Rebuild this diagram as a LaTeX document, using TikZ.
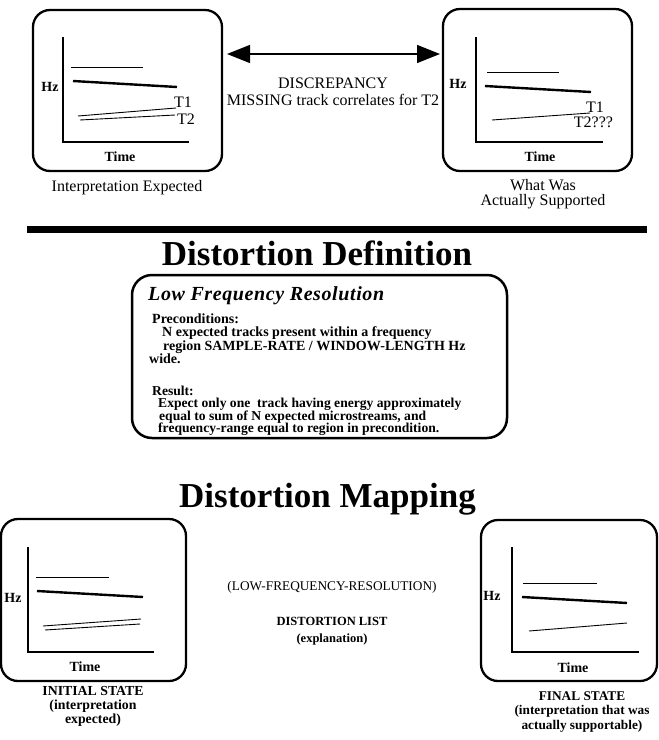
\documentclass[tikz,border=0pt]{standalone}
\usepackage{fontspec}
\setmainfont{Liberation Serif}
\usetikzlibrary{arrows.meta}
% let lines sit closer than their glyph boxes
\newcommand\tightskip{\lineskiplimit=-20pt\relax}
\begin{document}
\begin{tikzpicture}[x=1pt,y=-1pt,
  panel/.style={draw, line width=2.3pt, rounded corners=17pt, inner sep=0pt},
  axis/.style={line width=2.8pt, line join=miter},
  track/.style={line width=2.4pt},
  thin/.style={line width=0.9pt},
  axlabel/.style={font=\bfseries\fontsize{14}{16}\selectfont, inner sep=0pt},
  tlabel/.style={font=\fontsize{16}{18}\selectfont, inner sep=0pt},
  caption/.style={font=\fontsize{16}{15}\selectfont, align=center, inner sep=0pt},
  bcaption/.style={font=\bfseries\fontsize{13.8}{14}\selectfont, align=center, inner sep=0pt},
  heading/.style={font=\bfseries\fontsize{35}{40}\selectfont, inner sep=0pt, anchor=base},
  body/.style={align=left, anchor=north west, inner sep=0pt}]
\useasboundingbox (0,0) rectangle (659,740);

% ---------- upper left panel: interpretation expected ----------
\node[panel, minimum width=189pt, minimum height=161pt] (p1) at (127.5,90.5) {};
\draw[axis] (63,37) -- (63,142) -- (189,142);
\draw[thin] (71,67) -- (143,67);
\draw[track] (73,81) -- (177,87);
\draw[thin] (78,116) -- (176,108);
\draw[thin] (80,120) -- (175,115);
\node[tlabel] (p1t1) at (183,102) {T1};
\node[tlabel] (p1t2) at (186,119) {T2};
\node[axlabel] (p1hz) at (50,87) {Hz};
\node[axlabel] (p1time) at (120,157) {Time};
\node[caption] (c1) at (127,188) {Interpretation Expected};

% ---------- upper right panel: what was supported ----------
\node[panel, minimum width=189pt, minimum height=162pt] (p2) at (537.5,90) {};
\draw[axis] (476,37) -- (476,142) -- (603,142);
\draw[thin] (487,72) -- (559,72);
\draw[track] (485,86) -- (591,92);
\draw[thin] (492,120) -- (590,113);
\node[tlabel] (p2t1) at (595,107) {T1};
\node[tlabel] (p2t2) at (593.5,122.5) {T2???};
\node[axlabel] (p2hz) at (458,84) {Hz};
\node[axlabel] (p2time) at (540,157) {Time};
\node[caption] (c2) at (543,194.5) {What Was\\Actually Supported};

% ---------- discrepancy arrow ----------
\coordinate (al) at (227,54);
\coordinate (ar) at (440,54);
\draw[line width=1.3pt, {Triangle[length=23pt,width=18pt]}-{Triangle[length=23pt,width=18pt]}] (al) -- (ar);
\node[caption, font=\fontsize{16}{17}\selectfont] (disc) at (333,91.5) {DISCREPANCY\\MISSING track correlates for T2};

% ---------- separator ----------
\fill (27,226) rectangle (647,233);

% ---------- distortion definition ----------
\node[heading] (defhead) at (317,265) {Distortion Definition};
\node[draw, line width=2.5pt, rounded corners=20pt, minimum width=375pt, minimum height=163pt] (defbox) at (319.5,356.5) {};
\node[font=\bfseries\itshape\fontsize{20}{22}\selectfont\addfontfeature{LetterSpace=3}, anchor=west, inner sep=0pt] (deftitle) at (148,296) {Low Frequency Resolution};
\node[body, font=\bfseries\fontsize{14}{13.3}\selectfont\tightskip] (pre) at (149,313.5) {%
  \hspace*{3pt}Preconditions:\\
  \hspace*{13pt}N expected tracks present within a frequency\\
  \hspace*{14pt}region SAMPLE-RATE / WINDOW-LENGTH Hz\\
  wide.};
\node[body, font=\bfseries\fontsize{13.6}{12.5}\selectfont\tightskip] (res) at (152,385.5) {%
  Result:\\
  \hspace*{6pt}Expect only one\ \ track having energy approximately\\
  \hspace*{7pt}equal to sum of N expected microstreams, and\\
  \hspace*{6pt}frequency-range equal to region in precondition.};

% ---------- distortion mapping ----------
\node[heading] (maphead) at (327.5,507) {Distortion Mapping};

% initial state panel
\node[panel, minimum width=185pt, minimum height=162pt] (p3) at (93.5,600) {};
\draw[axis] (28,547) -- (28,652) -- (154,652);
\draw[thin] (36,577) -- (109,577);
\draw[track] (37,591) -- (143,597);
\draw[thin] (43,626) -- (141,619);
\draw[thin] (45,630) -- (140,624);
\node[axlabel] (p3hz) at (13,598) {Hz};
\node[axlabel] (p3time) at (85,667) {Time};
\node[bcaption] (c3) at (93,706) {INITIAL STATE\\(interpretation\\expected)};

% final state panel
\node[panel, minimum width=176pt, minimum height=161pt] (p4) at (569,600.5) {};
\draw[axis] (512,547) -- (512,652) -- (639,652);
\draw[thin] (523,583) -- (597,583);
\draw[track] (522,597) -- (627,603);
\draw[thin] (529,631) -- (627,623);
\node[axlabel] (p4hz) at (492,596) {Hz};
\node[axlabel] (p4time) at (573,668) {Time};
\node[bcaption, font=\bfseries\fontsize{13.3}{14.5}\selectfont] (c4) at (582,712) {FINAL STATE\\(interpretation that was\\actually supportable)};

% distortion list between the panels
\node[font=\fontsize{13.3}{15}\selectfont, inner sep=0pt] (lfr) at (332,587) {(LOW-FREQUENCY-RESOLUTION)};
\node[bcaption, font=\bfseries\fontsize{12.5}{17}\selectfont] (dlist) at (332,631) {DISTORTION LIST\\(explanation)};
\end{tikzpicture}
\end{document}
